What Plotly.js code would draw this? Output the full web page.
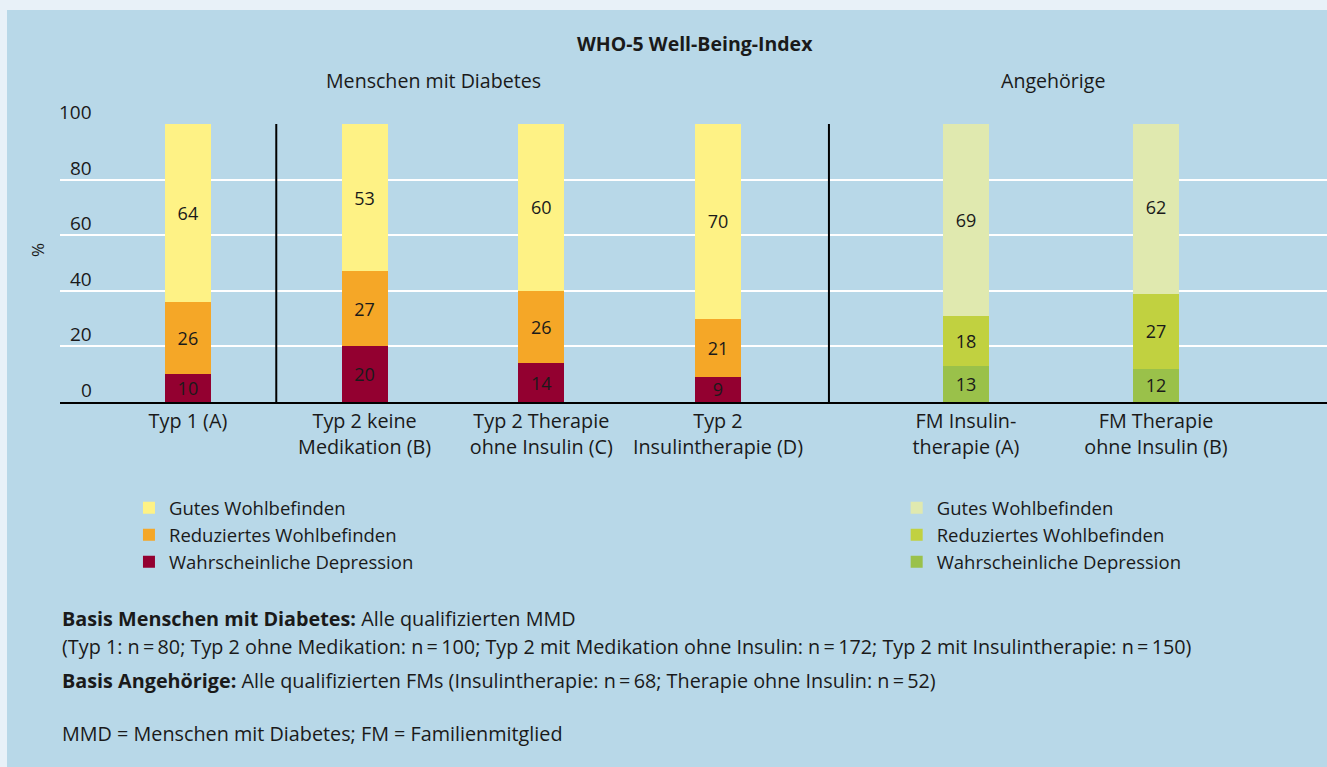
<!DOCTYPE html>
<html>
<head>
<meta charset="utf-8">
<script src="https://cdn.plot.ly/plotly-3.0.1.min.js"></script>
<style>
  html, body { margin: 0; padding: 0; background: #e8f1f8; width: 1327px; height: 767px; overflow: hidden; }
  #chart { position: absolute; left: 7px; top: 10px; width: 1320px; height: 757px; }
</style>
</head>
<body>
<div id="chart"></div>
<script>
// ---- data ----
const categoriesMMD = ["Typ 1 (A)", "Typ 2 keine<br>Medikation (B)", "Typ 2 Therapie<br>ohne Insulin (C)", "Typ 2<br>Insulintherapie (D)"];
const categoriesFM = ["FM Insulin-<br>therapie (A)", "FM Therapie<br>ohne Insulin (B)"];
const seriesNames = ["Wahrscheinliche Depression", "Reduziertes Wohlbefinden", "Gutes Wohlbefinden"];
const mmdDepression = [10, 20, 14, 9];
const mmdReduziert = [26, 27, 26, 21];
const mmdGut = [64, 53, 60, 70];
const fmDepression = [13, 12];
const fmReduziert = [18, 27];
const fmGut = [69, 62];
const yTickVals = [0, 20, 40, 60, 80, 100];
const groupTitles = ["Menschen mit Diabetes", "Angehörige"];
const chartTitle = "WHO-5 Well-Being-Index";
const footnotes = [
  "<b>Basis Menschen mit Diabetes:</b> Alle qualifizierten MMD",
  "(Typ 1: n\u2009=\u200980; Typ 2 ohne Medikation: n\u2009=\u2009100; Typ 2 mit Medikation ohne Insulin: n\u2009=\u2009172; Typ 2 mit Insulintherapie: n\u2009=\u2009150)",
  "<b>Basis Angehörige:</b> Alle qualifizierten FMs (Insulintherapie: n\u2009=\u200968; Therapie ohne Insulin: n\u2009=\u200952)",
  "MMD = Menschen mit Diabetes; FM = Familienmitglied"
];

// ---- styles ----
const FONT = "Open Sans, sans-serif";
const TXT = "#1a1a1a";
const mmdColors = ["#930030", "#f5a727", "#fef285"];
const fmColors = ["#9ac14a", "#c1d140", "#e0e9af"];
const split = 0.6069;

function barTrace(cats, vals, name, color, xaxis, legend, width) {
  return {
    type: "bar", x: cats, y: vals, name: name,
    xaxis: xaxis, yaxis: "y", legend: legend,
    width: width,
    marker: { color: color, line: { width: 0 } },
    text: vals.map(String), textposition: "inside", insidetextanchor: "middle",
    constraintext: "none", textangle: 0,
    textfont: { family: FONT, size: 18, color: TXT },
    hoverinfo: "none"
  };
}

const mmdSeries = [mmdDepression, mmdReduziert, mmdGut];
const fmSeries = [fmDepression, fmReduziert, fmGut];
const data = [];
mmdSeries.forEach((s, i) => data.push(barTrace(categoriesMMD, s, seriesNames[i], mmdColors[i], "x", "legend", 0.26)));
fmSeries.forEach((s, i) => data.push(barTrace(categoriesFM, s, seriesNames[i], fmColors[i], "x2", "legend2", 0.242)));

const annotations = [];
yTickVals.forEach(v => annotations.push({
  xref: "paper", yref: "y", x: 0.0253, y: v, xanchor: "right", yanchor: "bottom",
  text: String(v), showarrow: false, font: { family: FONT, size: 19, color: TXT }, yshift: -3, xshift: 2
}));
annotations.push({ xref: "paper", yref: "paper", x: -0.0174, y: 0.547, xanchor: "center", yanchor: "middle",
  text: "%", textangle: -90, showarrow: false, font: { family: FONT, size: 17, color: TXT } });
annotations.push({ xref: "paper", yref: "paper", x: 0.501, y: 1.291, xanchor: "center", yanchor: "middle",
  text: "<b>" + chartTitle + "</b>", showarrow: false, font: { family: FONT, size: 19.5, color: TXT } });
annotations.push({ xref: "paper", yref: "paper", x: 0.295, y: 1.155, xanchor: "center", yanchor: "middle",
  text: groupTitles[0], showarrow: false, font: { family: FONT, size: 19.6, color: TXT } });
annotations.push({ xref: "paper", yref: "paper", x: 0.784, y: 1.155, xanchor: "center", yanchor: "middle",
  text: groupTitles[1], showarrow: false, font: { family: FONT, size: 19.6, color: TXT } });
const footY = [-0.777, -0.878, -1.0, -1.194];
footnotes.forEach((t, i) => annotations.push({
  xref: "paper", yref: "paper", x: 0, y: footY[i], xanchor: "left", yanchor: "middle",
  text: t, showarrow: false, font: { family: FONT, size: 19.8, color: TXT }
}));

const xStyle = {
  type: "category", showline: true, linecolor: "#000", linewidth: 2, ticks: "",
  showgrid: false, zeroline: false, automargin: false, fixedrange: true, tickangle: 0,
  tickfont: { family: FONT, size: 19.8, color: TXT }
};

const layout = {
  width: 1320, height: 757,
  margin: { l: 53, r: 0, t: 114, b: 365, autoexpand: false },
  paper_bgcolor: "#b8d8e8", plot_bgcolor: "#b8d8e8",
  font: { family: FONT, color: TXT },
  barmode: "stack",
  showlegend: true,
  xaxis: Object.assign({}, xStyle, { domain: [0, split], range: [-0.724, 3.628], anchor: "y" }),
  xaxis2: Object.assign({}, xStyle, { domain: [split, 1], range: [-0.721, 1.9], anchor: "y" }),
  yaxis: { range: [0, 100], tickvals: yTickVals.slice(1), showticklabels: false, gridcolor: "#ffffff",
    gridwidth: 2, zeroline: false, showline: false, automargin: false, fixedrange: true },
  legend: { xref: "container", yref: "container", x: 0.0924, y: 0.367, xanchor: "left", yanchor: "top",
    traceorder: "reversed", bgcolor: "rgba(0,0,0,0)", font: { family: FONT, size: 18.5, color: TXT }, tracegroupgap: 0 },
  legend2: { xref: "container", yref: "container", x: 0.674, y: 0.367, xanchor: "left", yanchor: "top",
    traceorder: "reversed", bgcolor: "rgba(0,0,0,0)", font: { family: FONT, size: 18.5, color: TXT }, tracegroupgap: 0 },
  shapes: [
    { type: "line", xref: "x", yref: "y", x0: 0.5, x1: 0.5, y0: 0, y1: 100, line: { color: "#000", width: 2 } },
    { type: "line", xref: "paper", yref: "y", x0: split, x1: split, y0: 0, y1: 100, line: { color: "#000", width: 2 } }
  ],
  annotations: annotations
};

Plotly.newPlot("chart", data, layout, { staticPlot: true, displayModeBar: false });
</script>
</body>
</html>
